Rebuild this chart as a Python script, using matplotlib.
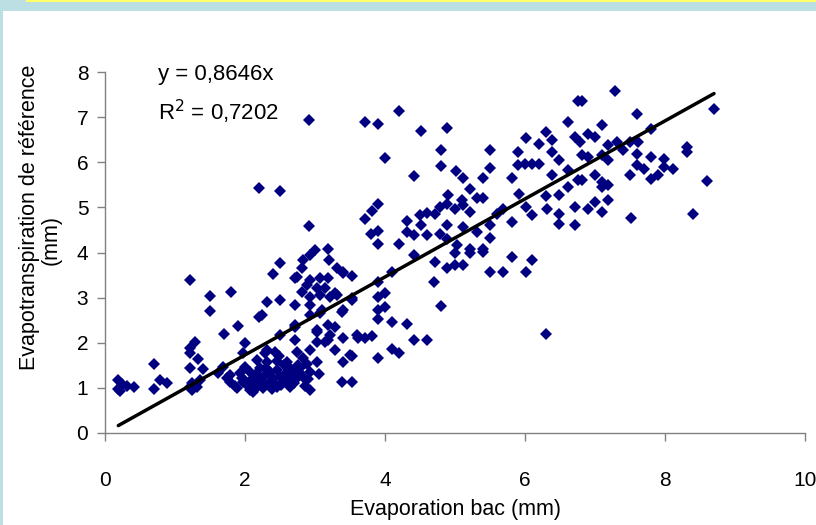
import numpy as np
import matplotlib.pyplot as plt
from matplotlib.patches import Rectangle

# Evaporation bac (mm) / Evapotranspiration de reference (mm)
evap = [
    # x < 1
    0.19, 0.19, 0.25, 0.31, 0.41, 0.22, 0.70, 0.70, 0.79, 0.89,
    # 1 - 2
    1.21, 1.21, 1.29, 1.21, 1.33, 1.21, 1.40, 1.24, 1.21, 1.31, 1.24, 1.36,
    1.50, 1.50, 1.80, 1.90, 1.70, 1.61, 1.74,
    # dense low cluster
    1.69, 1.79, 1.93, 2.07, 2.21, 2.46, 2.64, 2.79, 2.93, 1.79, 1.97, 2.11,
    2.26, 2.40, 2.54, 2.74, 2.83, 1.89, 2.07, 2.26, 2.46, 2.64, 2.93, 2.11,
    2.00, 2.17, 2.31, 2.60, 2.83, 3.03, 1.97, 2.31, 2.43, 2.74, 2.93, 2.00,
    2.71, 3.03, 3.14, 1.85, 2.02, 2.18, 2.33, 2.50, 2.57, 2.70, 2.85, 2.15,
    2.35, 2.55, 2.45, 2.65, 2.90, 3.05, 2.20, 1.95, 2.75, 2.38, 2.00,
    2.28, 2.42, 2.60, 2.78, 2.52, 2.12, 2.68, 2.88, 2.30, 2.48,
    # 2 - 3.7 middle
    2.20, 2.31, 2.24, 2.50, 2.50, 2.40, 2.74, 2.71, 2.71, 2.50, 2.29, 3.03,
    3.29, 3.39, 3.53, 3.19, 3.29, 3.10, 3.29, 3.00, 3.19, 2.83, 2.93, 2.81,
    2.71, 3.20, 3.31, 3.40, 3.53, 2.93, 3.07, 3.19, 2.89, 3.03, 3.14, 2.81,
    2.93, 3.07, 3.21, 3.31, 3.53, 2.93, 3.07, 3.39, 2.93, 2.71, 3.03, 3.19,
    3.21, 3.60, 3.71, 3.40, 3.50, 3.40, 3.40, 3.53, 3.40,
    2.20, 2.50, 2.91, 2.91,
    # 3.5 - 6.3 lower
    3.90, 3.90, 4.00, 3.90, 4.00, 3.90, 4.10, 4.31, 3.61, 3.81, 4.41, 4.60,
    3.53, 3.90, 4.10, 4.20, 6.30, 4.70, 4.80, 4.10, 4.41, 4.71, 4.89, 5.00,
    5.11, 5.00, 5.21, 5.40, 5.50, 5.69, 5.81, 6.01, 6.10,
    # 3.7 - 6.8 upper
    3.71, 3.90, 4.20, 4.51, 4.89, 4.00, 4.80, 4.80, 5.50, 5.50, 4.41, 5.01,
    5.11, 5.40, 5.21, 4.90, 5.40, 5.31, 5.10, 3.90, 3.81, 3.71, 4.31, 4.50,
    4.60, 4.71, 4.79, 4.89, 5.00, 5.11, 5.21, 3.80, 3.90, 3.90, 4.20, 4.31,
    4.41, 4.51, 4.60, 4.79, 4.89, 4.89, 5.11, 5.31, 5.50, 5.50, 5.03, 5.21,
    5.40, 5.60, 5.69, 5.81, 5.81, 5.90, 5.90, 6.00, 6.10, 6.20, 6.01, 6.20,
    6.30, 6.39, 6.39, 6.49, 6.61, 6.71, 6.76, 6.39, 6.61, 6.76, 5.91, 6.01,
    6.10, 6.30, 6.31, 6.49, 6.49, 6.49, 6.61, 6.71, 6.71,
    # x > 6.7
    7.29, 6.81, 7.60, 7.10, 6.90, 7.00, 6.79, 7.19, 7.31, 7.50, 7.61, 7.80,
    7.40, 7.60, 6.81, 6.90, 7.10, 7.19, 7.80, 7.99, 8.31, 8.31, 7.60, 7.70,
    7.99, 8.11, 7.50, 7.80, 7.90, 6.81, 7.00, 7.10, 7.19, 7.10, 8.60, 8.70,
    6.90, 7.00, 7.10, 7.19, 7.51, 8.40,
]
eto = [
    1.17, 0.98, 1.08, 1.05, 1.03, 0.93, 1.53, 0.98, 1.17, 1.10,
    3.39, 1.88, 2.02, 1.77, 1.64, 1.44, 1.42, 1.10, 1.02, 1.02, 0.95, 1.17,
    3.04, 2.70, 3.13, 2.37, 2.19, 1.33, 1.22,
    1.46, 1.29, 1.33, 1.35, 1.44, 1.40, 1.44, 1.44, 1.35, 1.13, 1.13, 1.22,
    1.13, 1.22, 1.13, 1.22, 1.24, 1.00, 0.95, 1.00, 1.02, 1.02, 0.95, 0.91,
    1.46, 1.62, 1.57, 1.57, 1.66, 1.57, 1.77, 1.84, 1.80, 1.80, 1.84, 2.00,
    2.06, 2.02, 2.02, 1.05, 1.08, 1.05, 1.08, 1.25, 1.30, 1.10, 1.05, 1.30,
    1.35, 1.50, 1.60, 1.30, 1.20, 1.30, 1.20, 1.22, 1.50, 0.98, 1.15,
    1.28, 1.10, 1.18, 1.32, 1.06, 1.12, 1.38, 1.52, 1.45, 1.70,
    2.57, 2.90, 2.61, 2.95, 3.77, 3.52, 3.46, 2.84, 2.35, 2.17, 1.77, 2.28,
    1.84, 1.13, 1.13, 2.06, 2.35, 2.72, 3.10, 4.06, 4.08, 3.83, 3.94, 3.66,
    3.43, 3.83, 3.66, 3.57, 3.48, 3.39, 3.43, 3.43, 3.28, 3.21, 3.21, 3.12,
    3.01, 3.06, 3.01, 3.06, 2.95, 2.84, 2.66, 2.68, 2.61, 2.39, 2.24, 2.39,
    2.17, 2.17, 2.10, 2.10, 1.73, 1.57, 3.55, 2.99, 2.73,
    5.43, 5.36, 6.94, 4.59,
    3.35, 3.02, 3.10, 2.73, 2.79, 2.53, 2.46, 2.42, 2.10, 2.15, 2.06, 2.06,
    1.71, 1.66, 1.86, 1.77, 2.19, 3.35, 2.82, 3.57, 3.94, 3.79, 3.66, 3.72,
    3.72, 3.99, 3.99, 4.01, 3.57, 3.57, 3.90, 3.57, 3.83,
    6.89, 6.85, 7.13, 6.69, 6.76, 6.09, 6.27, 5.92, 6.27, 5.87, 5.69, 5.80,
    5.65, 5.65, 5.41, 5.27, 5.20, 5.20, 5.16, 5.08, 4.92, 4.74, 4.70, 4.83,
    4.88, 4.85, 5.00, 5.08, 4.96, 5.05, 4.90, 4.41, 4.47, 4.19, 4.19, 4.46,
    4.39, 4.61, 4.39, 4.41, 4.61, 4.30, 4.56, 4.46, 4.61, 4.32, 4.17, 4.08,
    4.08, 4.85, 4.96, 4.68, 5.65, 6.23, 5.94, 5.96, 5.96, 5.96, 6.54, 6.41,
    6.67, 6.49, 6.23, 6.05, 6.89, 6.56, 7.36, 5.72, 5.83, 5.61, 5.30, 5.01,
    4.83, 5.25, 4.96, 5.27, 4.85, 4.63, 5.45, 5.01, 4.61,
    7.58, 7.36, 7.07, 6.82, 6.63, 6.56, 6.45, 6.38, 6.45, 6.45, 6.45, 6.74,
    6.27, 6.18, 6.16, 6.12, 6.16, 6.05, 6.12, 6.07, 6.34, 6.23, 5.94, 5.85,
    5.89, 5.85, 5.72, 5.63, 5.72, 5.61, 5.72, 5.56, 5.50, 5.45, 5.58, 7.18,
    4.96, 5.12, 4.90, 5.16, 4.77, 4.85,
]
slope = 0.8646
r2 = 0.7202

x_ticks = [0, 2, 4, 6, 8, 10]
y_ticks = [0, 1, 2, 3, 4, 5, 6, 7, 8]

plt.rcParams['font.family'] = ['Liberation Sans', 'DejaVu Sans']

fig = plt.figure(figsize=(8.16, 5.25), dpi=100)
fig.patch.set_facecolor('white')

# light blue frame at top and left, thin yellow strip on top
fig.add_artist(Rectangle((0, 1 - 11 / 525), 1, 11 / 525, transform=fig.transFigure,
                         facecolor='#bbdfe3', edgecolor='none'))
fig.add_artist(Rectangle((0, 0), 3 / 816, 1, transform=fig.transFigure,
                         facecolor='#bbdfe3', edgecolor='none'))
fig.add_artist(Rectangle((26 / 816, 1 - 1.5 / 525), 1, 1.5 / 525, transform=fig.transFigure,
                         facecolor='#ffff66', edgecolor='none'))

ax = fig.add_axes([105 / 816, 1 - 433 / 525, 700 / 816, 361 / 525])

x = np.array(evap)
y = np.array(eto)
ax.plot(x, y, linestyle='none', marker='D', markersize=6.1,
        color='#000080', markeredgewidth=0)

# linear trend through origin
xl = np.array([x.min(), x.max()])
ax.plot(xl, slope * xl, color='black', linewidth=2.5, solid_capstyle='round')

ax.set_xlim(0, 10)
ax.set_ylim(0, 8)
ax.set_xticks(x_ticks)
ax.set_yticks(y_ticks)
ax.tick_params(axis='x', direction='out', length=6, width=1, color='#808080',
               labelsize=15, pad=21)
ax.tick_params(axis='y', direction='out', length=6, width=1, color='#808080',
               labelsize=15, pad=6)
for side in ['top', 'right']:
    ax.spines[side].set_visible(False)
for side in ['left', 'bottom']:
    ax.spines[side].set_color('#808080')
    ax.spines[side].set_linewidth(1)

ax.text(0.076, 0.994, 'y = ' + f'{slope:.4f}'.replace('.', ',') + 'x',
        transform=ax.transAxes, fontsize=16, va='center', ha='left')
ax.text(0.076, 0.89, 'R$^2$ = ' + f'{r2:.4f}'.replace('.', ','),
        transform=ax.transAxes, fontsize=16, va='center', ha='left')

fig.text(455 / 816, 1 - 510 / 525, 'Evaporation bac (mm)', fontsize=15.5,
         ha='center', va='center')
fig.text(30 / 816, 1 - 217 / 525, 'Evapotranspiration de référence', fontsize=15.5,
         rotation=90, ha='center', va='center')
fig.text(51 / 816, 1 - 240 / 525, '(mm)', fontsize=15.5,
         rotation=90, ha='center', va='center')

fig.savefig('out.png', dpi=100, facecolor=fig.get_facecolor())
